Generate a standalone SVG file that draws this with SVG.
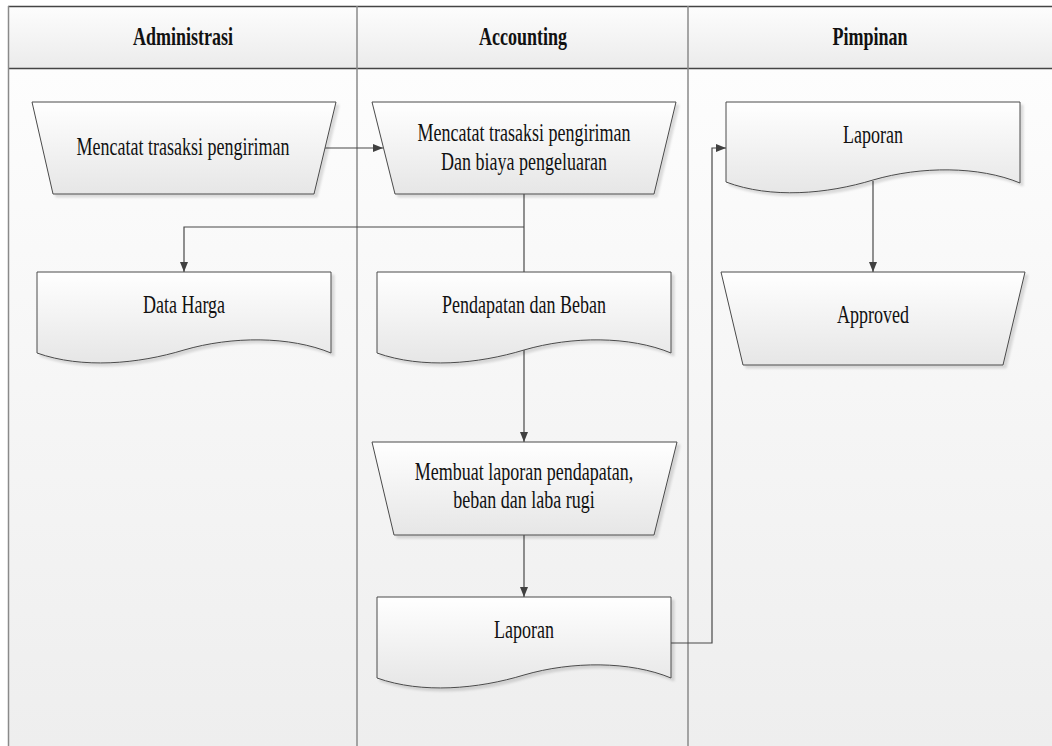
<svg xmlns="http://www.w3.org/2000/svg" width="1052" height="746" viewBox="0 0 1052 746">
  <defs>
    <linearGradient id="hdrFill" x1="0" y1="0" x2="0" y2="1">
      <stop offset="0" stop-color="#fdfdfd"/>
      <stop offset="1" stop-color="#ebebeb"/>
    </linearGradient>
    <linearGradient id="laneFill" x1="0" y1="0" x2="0" y2="1">
      <stop offset="0" stop-color="#fdfdfd"/>
      <stop offset="1" stop-color="#eeeeee"/>
    </linearGradient>
    <linearGradient id="shapeFill" x1="0" y1="0" x2="0" y2="1">
      <stop offset="0" stop-color="#ffffff"/>
      <stop offset="1" stop-color="#e6e6e6"/>
    </linearGradient>
    <filter id="shadow" x="-5%" y="-5%" width="115%" height="120%">
      <feDropShadow dx="3" dy="3" stdDeviation="1" flood-color="#000" flood-opacity="0.13"/>
    </filter>
    <marker id="arrow" viewBox="0 0 10 10" refX="10" refY="5" markerWidth="10" markerHeight="10" markerUnits="userSpaceOnUse" orient="auto">
      <path d="M0,1 L10,5 L0,9 Z" fill="#404040"/>
    </marker>
    <style>
      .shape { fill: url(#shapeFill); stroke: #4a4a4a; stroke-width: 1; filter: url(#shadow); }
      text { font-family: 'Liberation Serif', 'DejaVu Serif', serif; font-size: 18px; fill: #111; text-anchor: middle; }
      .title { font-weight: bold; }
      .conn { fill: none; stroke: #484848; stroke-width: 1.2; }
      .lane { stroke: #8a8a8a; stroke-width: 1.5; }
      .frame { stroke: #454545; stroke-width: 1.5; fill: none; }
    </style>
  </defs>

  <!-- swimlane frame -->
  <g id="lanes">
    <rect x="8" y="69" width="1044" height="677" fill="url(#laneFill)"/>
    <rect x="8" y="6.5" width="1044" height="62" fill="url(#hdrFill)"/>
    <line class="frame" x1="8" y1="6.5" x2="1052" y2="6.5"/>
    <line class="frame" x1="8" y1="68.5" x2="1052" y2="68.5"/>
    <line class="lane" x1="8.5" y1="6" x2="8.5" y2="746"/>
    <line class="lane" x1="357" y1="6" x2="357" y2="746"/>
    <line class="lane" x1="688" y1="6" x2="688" y2="746"/>
    <text class="title" transform="translate(183,45) scale(1,1.38)">Administrasi</text>
    <text class="title" transform="translate(523,45) scale(1,1.38)">Accounting</text>
    <text class="title" transform="translate(870,45) scale(1,1.38)">Pimpinan</text>
  </g>

  <!-- connectors -->
  <g id="connectors">
    <path class="conn" d="M325,148 H383" marker-end="url(#arrow)"/>
    <path class="conn" d="M524,194 V272"/>
    <path class="conn" d="M524,227 H184 V272" marker-end="url(#arrow)"/>
    <path class="conn" d="M524,350 V442" marker-end="url(#arrow)"/>
    <path class="conn" d="M524,535 V597" marker-end="url(#arrow)"/>
    <path class="conn" d="M671,643 H712 V148 H726" marker-end="url(#arrow)"/>
    <path class="conn" d="M873,181 V272" marker-end="url(#arrow)"/>
  </g>

  <g id="mencatat-admin">
    <path class="shape" d="M32,102 H336 L314,194 H53 Z"/>
    <text transform="translate(183,155) scale(1,1.38)">Mencatat trasaksi pengiriman</text>
  </g>

  <g id="mencatat-accounting">
    <path class="shape" d="M372,102 H676 L654,194 H395 Z"/>
    <text transform="translate(524,141) scale(1,1.38)">Mencatat trasaksi pengiriman</text>
    <text transform="translate(524,170) scale(1,1.38)">Dan biaya pengeluaran</text>
  </g>

  <g id="data-harga">
    <path class="shape" d="M37,272 H331 V353 C290,336 232,336 184,350 C138,364 82,369 37,353 Z"/>
    <text transform="translate(184,313) scale(1,1.38)">Data Harga</text>
  </g>

  <g id="pendapatan-beban">
    <path class="shape" d="M377,272 H671 V353 C630,336 572,336 524,350 C478,364 422,369 377,353 Z"/>
    <text transform="translate(524,313) scale(1,1.38)">Pendapatan dan Beban</text>
  </g>

  <g id="membuat-laporan">
    <path class="shape" d="M372,442 H677 L654,535 H394 Z"/>
    <text transform="translate(524,480) scale(1,1.38)">Membuat laporan pendapatan,</text>
    <text transform="translate(524,508) scale(1,1.38)">beban dan laba rugi</text>
  </g>

  <g id="laporan-accounting">
    <path class="shape" d="M377,597 H671 V678 C630,661 572,661 524,675 C478,689 422,694 377,678 Z"/>
    <text transform="translate(524,638) scale(1,1.38)">Laporan</text>
  </g>

  <g id="laporan-pimpinan">
    <path class="shape" d="M726,102 H1020 V183 C979,166 921,166 873,180 C827,194 771,199 726,182 Z"/>
    <text transform="translate(873,143) scale(1,1.38)">Laporan</text>
  </g>

  <g id="approved">
    <path class="shape" d="M721,272 H1025 L1003,365 H743 Z"/>
    <text transform="translate(873,323) scale(1,1.38)">Approved</text>
  </g>
</svg>
